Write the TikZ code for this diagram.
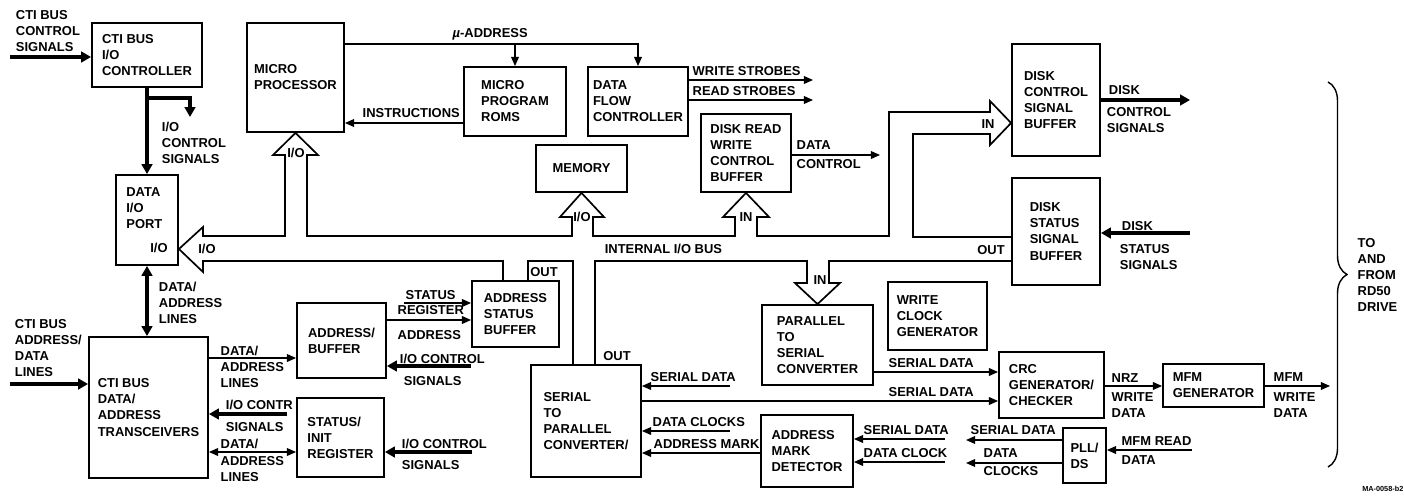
\documentclass[tikz,border=0pt]{standalone}
\usepackage{fontspec}
\setmainfont{Liberation Sans}
\usetikzlibrary{arrows.meta,decorations.pathreplacing}

\tikzset{
  blk/.style={draw, line width=1.3pt, align=left, inner sep=0pt},
  sig/.style={line width=1pt, -{Triangle[length=6.5pt,width=5.5pt]}},
  sig2/.style={line width=1pt, {Triangle[length=6.5pt,width=5.5pt]}-{Triangle[length=6.5pt,width=5.5pt]}},
  fat/.style={line width=2.8pt, -{Triangle[length=7pt,width=7.5pt]}},
  fat2/.style={line width=2.8pt, {Triangle[length=7pt,width=7.5pt]}-{Triangle[length=7pt,width=7.5pt]}},
  bus/.style={line width=1.2pt, line join=miter},
  lbl/.style={inner sep=0pt, align=left, anchor=north west},
  port/.style={inner sep=0pt},
}

\begin{document}
\begin{tikzpicture}[x=0.025cm,y=-0.025cm,
  font=\fontsize{9.2}{11.4}\selectfont\bfseries]
\useasboundingbox (0,0) rectangle (1404,500);

% blocks
\node[blk, minimum width=2.75cm, minimum height=1.6cm] (ctl) at (147,55) {CTI BUS\\I/O\\CONTROLLER};
\node[blk, minimum width=2.425cm, minimum height=2.725cm] (mp) at (295.5,77.5) {MICRO\\PROCESSOR};
\node[blk, minimum width=2.55cm, minimum height=1.725cm] (roms) at (515,101.5) {MICRO\\PROGRAM\\ROMS};
\node[blk, minimum width=2.5cm, minimum height=1.725cm] (dfc) at (638,101.5) {DATA\\FLOW\\CONTROLLER};
\node[blk, minimum width=2.275cm, minimum height=1.175cm] (mem) at (581.5,168.5) {MEMORY};
\node[blk, minimum width=2.25cm, minimum height=1.95cm] (drw) at (746,153) {DISK READ\\WRITE\\CONTROL\\BUFFER};
\node[blk, minimum width=2.2cm, minimum height=2.8cm] (dcsb) at (1056,100) {DISK\\CONTROL\\SIGNAL\\BUFFER};
\node[blk, minimum width=2.2cm, minimum height=2.675cm] (dssb) at (1056,231.5) {DISK\\STATUS\\SIGNAL\\BUFFER};
\node[blk, minimum width=1.55cm, minimum height=2.25cm] (port) at (147,220) {DATA\\I/O\\PORT\\[6pt]\hspace*{0.6cm}I/O};
\node[blk, minimum width=2.975cm, minimum height=3.525cm] (trx) at (148.5,407.5) {CTI BUS\\DATA/\\ADDRESS\\TRANSCEIVERS};
\node[blk, minimum width=2.225cm, minimum height=1.875cm] (abuf) at (341.5,340.5) {ADDRESS/\\BUFFER};
\node[blk, minimum width=2.175cm, minimum height=1.975cm] (sir) at (340.5,437.5) {STATUS/\\INIT\\REGISTER};
\node[blk, minimum width=2.175cm, minimum height=1.65cm] (asb) at (515.5,314) {ADDRESS\\STATUS\\BUFFER};
\node[blk, minimum width=2.75cm, minimum height=2.8cm] (s2p) at (586,421) {SERIAL\\TO\\PARALLEL\\CONVERTER/};
\node[blk, minimum width=2.775cm, minimum height=2cm] (p2s) at (817.5,345) {PARALLEL\\TO\\SERIAL\\CONVERTER};
\node[blk, minimum width=2.475cm, minimum height=1.7cm] (wcg) at (937.5,316) {WRITE\\CLOCK\\GENERATOR};
\node[blk, minimum width=2.3cm, minimum height=1.8cm] (amd) at (807,451) {ADDRESS\\MARK\\DETECTOR};
\node[blk, minimum width=2.625cm, minimum height=1.65cm] (crc) at (1051.5,385) {CRC\\GENERATOR/\\CHECKER};
\node[blk, minimum width=2.525cm, minimum height=1.075cm] (mfm) at (1213.5,385.5) {MFM\\GENERATOR};
\node[blk, minimum width=1.075cm, minimum height=1.375cm] (pll) at (1084.5,455.5) {PLL/\\DS};

% free ends
\coordinate (ctlin) at (10,57);
\coordinate (iotap) at (190,117);
\coordinate (trxin) at (10,384);
\coordinate (stsin) at (404,303);
\coordinate (abufio) at (471,366);
\coordinate (trxio) at (287,414);
\coordinate (sirio) at (472,452);
\coordinate (wrstb) at (813,80);
\coordinate (rdstb) at (813,100);
\coordinate (dctl) at (880,155);
\coordinate (dkctl) at (1190,100);
\coordinate (dksts) at (1190,233);
\coordinate (sdin) at (730,386);
\coordinate (dcin) at (730,431);
\coordinate (amdsd) at (945,439);
\coordinate (amddc) at (945,462);
\coordinate (mfmout) at (1330,386);
\coordinate (pllsd) at (966,440);
\coordinate (plldc) at (966,463);
\coordinate (mfmrd) at (1192,450);

% CTI bus side
\draw[fat] (ctlin) -- (ctlin -| ctl.west)
  node[lbl] at (14,8) {CTI BUS\\CONTROL\\SIGNALS};
\draw[fat] (ctl.south) -- (port.north)
  node[lbl] at (160,120) {I/O\\CONTROL\\SIGNALS};
\draw[fat] (ctl.south |- 0,98) -| (iotap);
\draw[fat2] (port.south) -- (port.south |- trx.north)
  node[lbl] at (157,280) {DATA/\\ADDRESS\\LINES};
\draw[fat] (trxin) -- (trxin -| trx.west)
  node[lbl] at (13,317) {CTI BUS\\ADDRESS/\\DATA\\LINES};
\draw[sig] (trx.east |- 0,358) -- (abuf.west |- 0,358)
  node[lbl] at (220,345) {DATA/}
  node[lbl] at (220,362) {ADDRESS\\LINES};
\draw[sig] (stsin) -- (stsin -| asb.west)
  node[lbl] at (405,290) {STATUS};
\draw[sig] (abuf.east |- 0,320) -- (asb.west |- 0,320)
  node[lbl] at (397,305) {REGISTER}
  node[lbl] at (397,330) {ADDRESS};
\draw[fat] (abufio) -- (abufio -| abuf.east)
  node[lbl] at (398,352) {I/O CONTROL}
  node[lbl] at (402,374) {SIGNALS};
\draw[fat] (trxio) -- (trxio -| trx.east)
  node[lbl] at (224,398) {I/O CONTR}
  node[lbl] at (224,420) {SIGNALS};
\draw[sig2] (trx.east |- 0,452) -- (sir.west |- 0,452)
  node[lbl] at (220,438) {DATA/}
  node[lbl] at (220,456) {ADDRESS\\LINES};
\draw[fat] (sirio) -- (sirio -| sir.east)
  node[lbl] at (400,437) {I/O CONTROL}
  node[lbl] at (400,458) {SIGNALS};

% micro processor side
\draw[sig] (mp.east |- 0,44) -| (dfc.north)
  node[lbl] at (452,28) {{\itshape µ}-ADDRESS};
\draw[sig] (roms.north |- 0,44) -- (roms.north);
\draw[sig] (roms.west |- 0,123) -- (mp.east |- 0,123)
  node[lbl] at (362,108) {INSTRUCTIONS};
\draw[sig] (dfc.east |- wrstb) -- (wrstb)
  node[lbl] at (692,66) {WRITE STROBES};
\draw[sig] (dfc.east |- rdstb) -- (rdstb)
  node[lbl] at (692,86) {READ STROBES};
\draw[sig] (drw.east |- dctl) -- (dctl)
  node[lbl] at (796,140) {DATA}
  node[lbl] at (796,159) {CONTROL};
\draw[fat] (dcsb.east |- dkctl) -- (dkctl)
  node[lbl] at (1107,83) {DISK}
  node[lbl] at (1105,105) {CONTROL\\SIGNALS};
\draw[fat] (dksts) -- (dksts -| dssb.east)
  node[lbl] at (1120,219) {DISK}
  node[lbl] at (1118,242) {STATUS\\SIGNALS};

% serial data paths
\draw[sig] (sdin) -- (sdin -| s2p.east)
  node[lbl] at (650,372) {SERIAL DATA};
\draw[sig] (s2p.east |- 0,401) -- (crc.west |- 0,401)
  node[lbl] at (888,387) {SERIAL DATA};
\draw[sig] (dcin) -- (dcin -| s2p.east)
  node[lbl] at (652,417) {DATA CLOCKS};
\draw[sig] (amd.west |- 0,453) -- (s2p.east |- 0,453)
  node[lbl] at (653,439) {ADDRESS MARK};
\draw[sig] (p2s.east |- 0,372) -- (crc.west |- 0,372)
  node[lbl] at (888,358) {SERIAL DATA};
\draw[sig] (amdsd) -- (amdsd -| amd.east)
  node[lbl] at (863,425) {SERIAL DATA};
\draw[sig] (amddc) -- (amddc -| amd.east)
  node[lbl] at (863,448) {DATA CLOCK};
\draw[sig] (crc.east |- 0,386) -- (mfm.west |- 0,386)
  node[lbl] at (1111,373) {NRZ}
  node[lbl] at (1111,392) {WRITE\\DATA};
\draw[sig] (mfm.east |- mfmout) -- (mfmout)
  node[lbl] at (1273,372) {MFM}
  node[lbl] at (1273,392) {WRITE\\DATA};
\draw[sig] (pll.west |- pllsd) -- (pllsd)
  node[lbl] at (970,425) {SERIAL DATA};
\draw[sig] (pll.west |- plldc) -- (plldc)
  node[lbl] at (983,448) {DATA}
  node[lbl] at (983,466) {CLOCKS};
\draw[sig] (mfmrd) -- (mfmrd -| pll.east)
  node[lbl] at (1121,436) {MFM READ}
  node[lbl] at (1121,455) {DATA};

% internal I/O bus, upper edge
\draw[bus] (port.east |- 0,249) -- (203,227) -- (203,236) -- (285,236) -- (285,155)
  -- (273,155) -- (mp.south) -- (318,155) -- (307,155) -- (307,236)
  -- (572,236) -- (572,217) -- (560,217) -- (mem.south) -- (604,217) -- (593,217) -- (593,236)
  -- (735,236) -- (735,217) -- (723,217) -- (drw.south) -- (769,217) -- (757,217) -- (757,236)
  -- (889,236) -- (889,112) -- (990,112) -- (990,101) -- (dcsb.west |- 0,123) -- (990,145)
  -- (990,134) -- (913,134) -- (913,237) -- (dssb.west |- 0,237)
  node[port] at (207,249) {I/O}
  node[port] at (296,153) {I/O}
  node[port] at (582,217) {I/O}
  node[port] at (746,217) {IN}
  node[port] at (988,124) {IN};
% internal I/O bus, lower edge
\draw[bus] (port.east |- 0,249) -- (203,272) -- (203,261) -- (503,261) -- (asb.north -| 503,0)
  (asb.north -| 528,0) -- (528,261) -- (573,261) -- (s2p.north -| 573,0)
  (s2p.north -| 595,0) -- (595,261) -- (807,261) -- (807,283) -- (795,283) -- (p2s.north)
  -- (840,283) -- (829,283) -- (829,261) -- (dssb.west |- 0,261)
  node[port] at (544,272) {OUT}
  node[port] at (617,356) {OUT}
  node[port] at (820,280) {IN}
  node[port] at (991,250) {OUT}
  node[lbl] at (604,243) {INTERNAL I/O BUS};

% drive side
\draw[line width=1pt, decorate, decoration={brace, amplitude=0.475cm}] (1328,82) -- (1328,467)
  node[lbl] at (1357,238) {TO\\AND\\FROM\\RD50\\DRIVE};
\node[lbl, font=\fontsize{5.2}{6}\selectfont\bfseries] (figno) at (1362,486) {MA-0058-b2};
\end{tikzpicture}
\end{document}
